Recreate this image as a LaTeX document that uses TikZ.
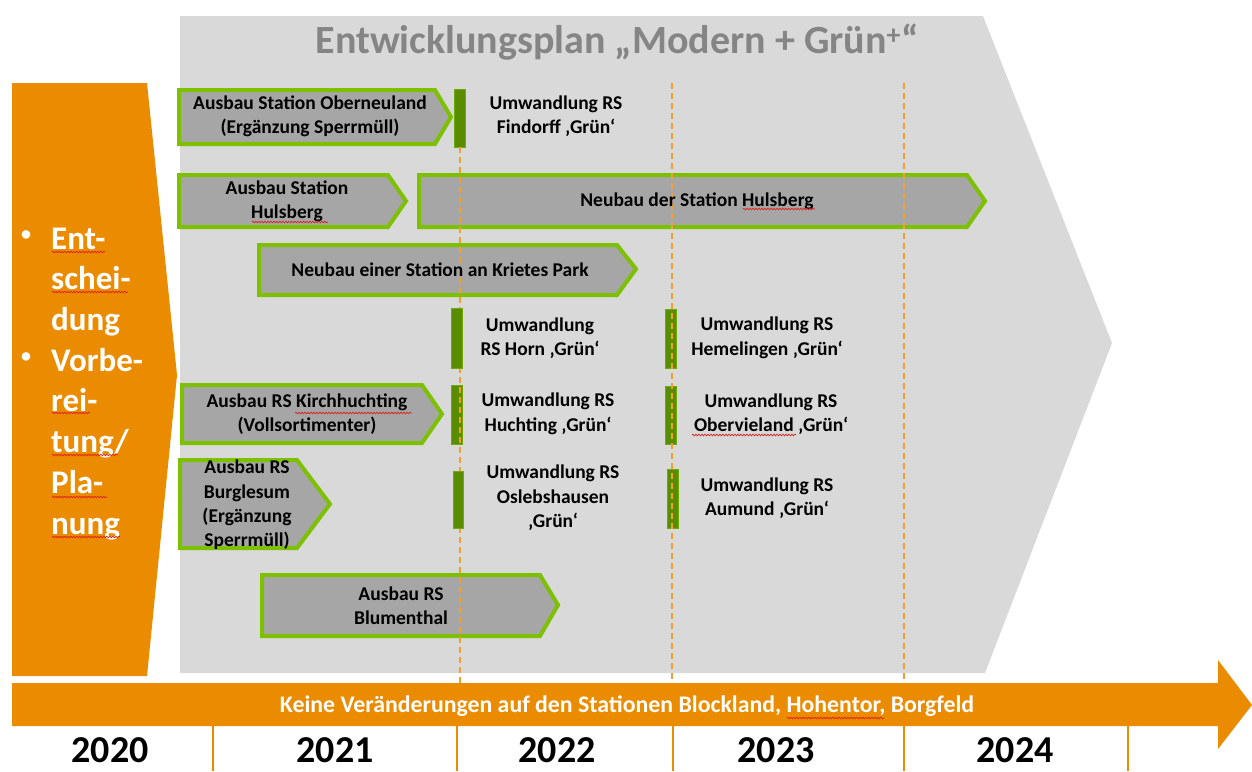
\documentclass[tikz,border=0pt]{standalone}
\usepackage{fontspec}
\setmainfont{Carlito}
\usetikzlibrary{decorations.pathmorphing}
\definecolor{org}{HTML}{EB8C00}
\definecolor{dashorg}{HTML}{F0A030}
\definecolor{bggray}{HTML}{D9D9D9}
\definecolor{boxgray}{HTML}{A6A6A6}
\definecolor{grn}{HTML}{7CC000}
\definecolor{dkgrn}{HTML}{5A8C00}
\definecolor{titlegray}{HTML}{858585}
\definecolor{squigred}{HTML}{E0201A}
\tikzset{
  arrowbox/.style={fill=boxgray, draw=grn, line width=4pt, line join=miter},
  barbox/.style={fill=dkgrn, draw=grn!60!dkgrn, line width=0.8pt},
  boxtxt/.style={font=\fontsize{19.5}{24.4}\selectfont\bfseries, align=center, text=black, inner sep=0pt},
  dashline/.style={draw=dashorg, line width=1.6pt, dash pattern=on 6pt off 4pt},
  sepline/.style={draw=org, line width=2pt},
  yeartxt/.style={font=\fontsize{38}{40}\selectfont\bfseries, text=black, inner sep=0pt},
  lefttxt/.style={font=\fontsize{33}{40.7}\selectfont\bfseries, text=white, align=left, inner sep=0pt},
  bullettxt/.style={font=\fontsize{20}{22}\selectfont\bfseries, text=white, inner sep=0pt},
  squig/.style={draw=squigred, line width=0.7pt, decorate, decoration={snake, segment length=3pt, amplitude=0.8pt}},
}
\begin{document}
\begin{tikzpicture}[x=1pt,y=-1pt]
\useasboundingbox[fill=white] (0,0) rectangle (1252,771);
% background chevron
\fill[bggray] (180,16) -- (983,16) -- (1112,343) -- (985,673) -- (180,673) -- cycle;
% orange left block
\fill[org] (12,83) -- (147,83) -- (177,375) -- (147,676) -- (12,676) -- cycle;
% title
\node[font=\fontsize{40}{44}\selectfont\bfseries, text=titlegray, inner sep=0pt] (title) at (617,42)
  {Entwicklungsplan „Modern + Grün\textsuperscript{+}“};
% arrow boxes
\draw[arrowbox] (179,90) -- (435,90) -- (451,117) -- (435,144) -- (179,144) -- cycle;
\draw[arrowbox] (179,175) -- (388,175) -- (406,201) -- (388,227) -- (179,227) -- cycle;
\draw[arrowbox] (419,175) -- (967,175) -- (985,201) -- (967,227) -- (419,227) -- cycle;
\draw[arrowbox] (259,245) -- (617,245) -- (636,269) -- (617,295) -- (259,295) -- cycle;
\draw[arrowbox] (182,385) -- (422,385) -- (442,414) -- (422,443) -- (182,443) -- cycle;
\draw[arrowbox] (180,460) -- (297,460) -- (330,504) -- (297,548) -- (180,548) -- cycle;
\draw[arrowbox] (262,575) -- (540,575) -- (558,605) -- (540,636) -- (262,636) -- cycle;
% green bars (under the dashed lines)
\draw[barbox] (454,89) rectangle (465,147);
\draw[barbox] (451,385) rectangle (462,444);
\draw[barbox] (665,309) rectangle (676,368);
\draw[barbox] (665,386) rectangle (676,444);
\draw[barbox] (667,469) rectangle (678,528);
% dashed year lines
\coordinate (d1t) at (460,147); \coordinate (d1b) at (460,683);
\coordinate (d2t) at (672,83);  \coordinate (d2b) at (672,683);
\coordinate (d3t) at (904,83);  \coordinate (d3b) at (904,683);
\draw[dashline] (d1t) -- (d1b);
\draw[dashline] (d2t) -- (d2b);
\draw[dashline] (d3t) -- (d3b);
% green bars (over the dashed line)
\draw[barbox] (451,308) rectangle (462,368);
\draw[barbox] (453,471) rectangle (463,528);
% box texts
\node[boxtxt] (oberneuland) at (310,116) {Ausbau Station Oberneuland\\(Ergänzung Sperrmüll)};
\node[boxtxt] (hulsberg) at (287,201) {Ausbau Station\\Hulsberg};
\node[boxtxt] (neuhulsberg) at (697,201) {Neubau der Station Hulsberg};
\node[boxtxt] (krietes) at (440,270) {Neubau einer Station an Krietes Park};
\node[boxtxt] (kirch) at (307,414) {Ausbau RS Kirchhuchting\\(Vollsortimenter)};
\node[boxtxt] (burglesum) at (247,505) {Ausbau RS\\Burglesum\\(Ergänzung\\Sperrmüll)};
\node[boxtxt] (blumenthal) at (401,606) {Ausbau RS\\Blumenthal};
% conversion texts
\node[boxtxt] (findorff) at (556,116) {Umwandlung RS\\Findorff ‚Grün‘};
\node[boxtxt] (horn) at (540,338) {Umwandlung\\RS Horn ‚Grün‘};
\node[boxtxt] (huchting) at (548,414) {Umwandlung RS\\Huchting ‚Grün‘};
\node[boxtxt] (osleb) at (553,498) {Umwandlung RS\\Oslebshausen\\‚Grün‘};
\node[boxtxt] (hemel) at (767,338) {Umwandlung RS\\Hemelingen ‚Grün‘};
\node[boxtxt] (oberv) at (771,414) {Umwandlung RS\\Obervieland ‚Grün‘};
\node[boxtxt] (aumund) at (767,498) {Umwandlung RS\\Aumund ‚Grün‘};
% left text
\node[lefttxt, anchor=north west] (lefttext) at (51,227.5) {Ent-\\schei-\\dung\\Vorbe-\\rei-\\tung/\\Pla-\\nung};
\node[bullettxt] (bul1) at (26,236) {•};
\node[bullettxt] (bul2) at (26,358) {•};
% timeline arrow
\fill[org] (12,683) -- (1218,683) -- (1218,660) -- (1252,705) -- (1218,749) -- (1218,726) -- (12,726) -- cycle;
\node[font=\fontsize{23.8}{26}\selectfont\bfseries, text=white, inner sep=0pt] (keine) at (627,706)
  {Keine Veränderungen auf den Stationen Blockland, Hohentor, Borgfeld};
% spell-check marks
\draw[squig] (52,252) -- (105,252);
\draw[squig] (52,292) -- (128,292);
\draw[squig] (52,413) -- (90,413);
\draw[squig] (52,455) -- (118,455);
\draw[squig] (52,497) -- (107,497);
\draw[squig] (52,537) -- (120,537);
\draw[squig] (252,222) -- (328,222);
\draw[squig] (743,209) -- (815,209);
\draw[squig] (295,413) -- (412,413);
\draw[squig] (692,435) -- (796,435);
\draw[squig] (787,718) -- (884,718);
% separators
\foreach \x/\n in {213/s1,457/s2,673/s3,904/s4,1128/s5}{
  \coordinate (\n t) at (\x,726); \coordinate (\n b) at (\x,771);
  \draw[sepline] (\n t) -- (\n b);
}
% years
\node[yeartxt] (y2020) at (110,750) {2020};
\node[yeartxt] (y2021) at (335,750) {2021};
\node[yeartxt] (y2022) at (557,750) {2022};
\node[yeartxt] (y2023) at (776,750) {2023};
\node[yeartxt] (y2024) at (1015,750) {2024};
\end{tikzpicture}
\end{document}
